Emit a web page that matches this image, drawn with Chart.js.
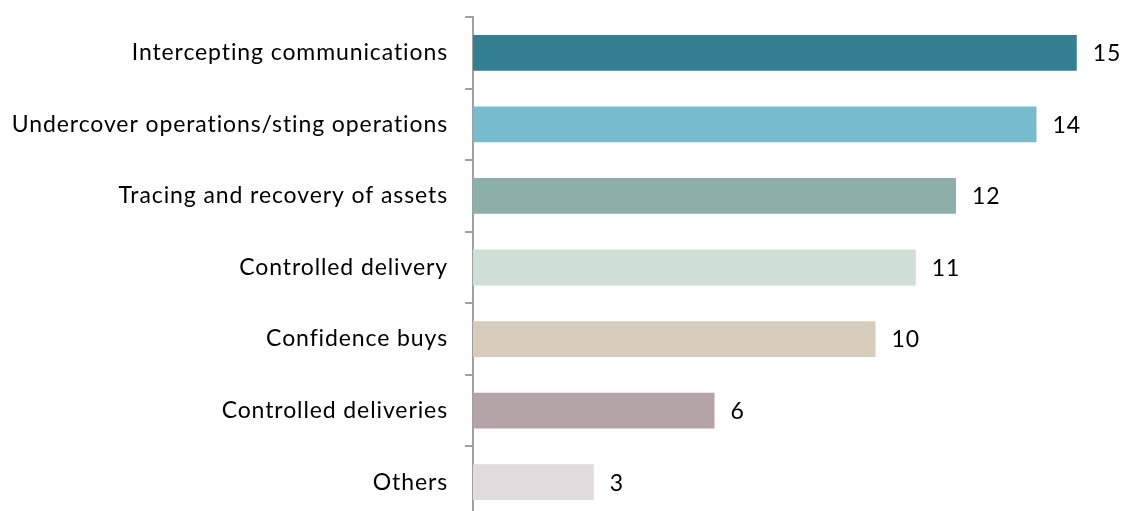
<!DOCTYPE html>
<html>
<head>
<meta charset="utf-8">
<script src="https://cdn.jsdelivr.net/npm/chart.js@4"></script>
<style>
  html, body { margin: 0; padding: 0; background: #fff; overflow: hidden; }
  #wrap { position: relative; width: 1121px; height: 518px; }
</style>
</head>
<body>
<div id="wrap"><canvas id="barChart"></canvas></div>
<script>
const categories = [
    'Intercepting communications',
    'Undercover operations/sting operations',
    'Tracing and recovery of assets',
    'Controlled delivery',
    'Confidence buys',
    'Controlled deliveries',
    'Others'
];
const counts = [15, 14, 12, 11, 10, 6, 3];
const barColors = ['#337F91', '#77BCCD', '#8CAFAA', '#CFDFD5', '#D8CDBC', '#B4A3A7', '#E1DBDE'];

const fontFamily = 'Lato, "Open Sans", sans-serif';
const fontSize = 23;

// slightly wider text so Lato takes the room Calibri did
const spacing = {
    id: 'spacing',
    beforeLayout(chart) { chart.ctx.letterSpacing = '0.9px'; },
    beforeDraw(chart) { chart.ctx.letterSpacing = '0.9px'; }
};

// value labels next to the bar ends
const valueLabels = {
    id: 'valueLabels',
    afterDatasetsDraw(chart) {
        const ctx = chart.ctx;
        const meta = chart.getDatasetMeta(0);
        ctx.save();
        ctx.font = fontSize + 'px ' + fontFamily;
        ctx.fillStyle = '#000';
        ctx.textAlign = 'left';
        ctx.textBaseline = 'middle';
        meta.data.forEach((bar, i) => {
            ctx.fillText(String(counts[i]), bar.x + 16, bar.y + 1);
        });
        ctx.restore();
    }
};

new Chart(document.getElementById('barChart'), {
    type: 'bar',
    data: {
        labels: categories,
        datasets: [{
            data: counts,
            backgroundColor: barColors,
            barPercentage: 0.5,
            categoryPercentage: 1.0
        }]
    },
    options: {
        indexAxis: 'y',
        responsive: true,
        maintainAspectRatio: false,
        animation: false,
        layout: { padding: { top: 17, right: 4, left: 0, bottom: 0 } },
        plugins: {
            legend: { display: false },
            tooltip: { enabled: false }
        },
        scales: {
            x: {
                display: false,
                min: 0,
                max: 16
            },
            y: {
                afterFit(scale) {
                    scale.width = 473;
                    scale.paddingTop = 0;
                    scale.paddingBottom = 0;
                },
                border: { display: true, color: '#A0A0A0', width: 2 },
                grid: {
                    display: true,
                    drawOnChartArea: false,
                    offset: true,
                    tickLength: 8,
                    color: '#A0A0A0',
                    lineWidth: 2
                },
                ticks: {
                    padding: 17,
                    color: '#000',
                    font: { family: fontFamily, size: fontSize }
                }
            }
        }
    },
    plugins: [spacing, valueLabels]
});
</script>
</body>
</html>
